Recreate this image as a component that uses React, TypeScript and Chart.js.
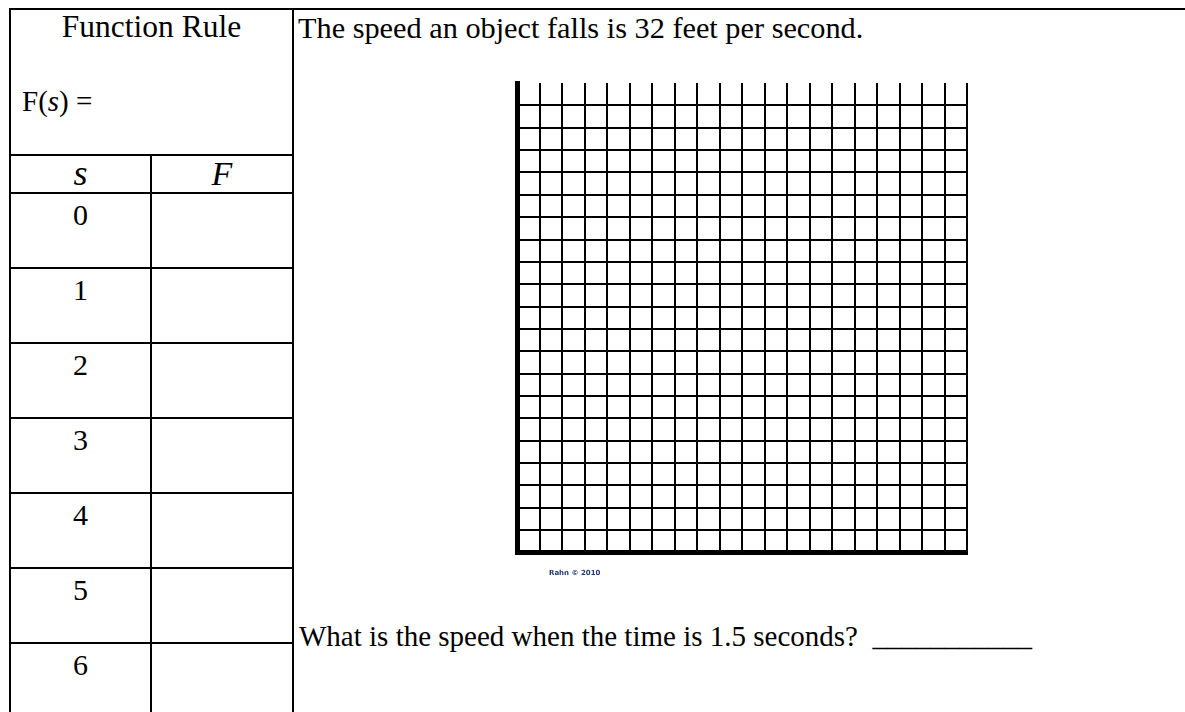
import React, { useEffect, useRef } from "react";
import { Chart, registerables } from "chart.js";

Chart.register(...registerables);

// ---- data ----
const sValues: number[] = [0, 1, 2, 3, 4, 5, 6];
const fValues: (number | null)[] = [null, null, null, null, null, null, null];
const xRange: number[] = [0, 20];
const yRange: number[] = [0, 21];
const plotPoints: { x: number; y: number }[] = [];

const TITLE = "The speed an object falls is 32 feet per second.";
const QUESTION = "What is the speed when the time is 1.5 seconds?  ___________";
const CREDIT = "Rahn \u00A9 2010";

const SERIF = '"Liberation Serif", "Times New Roman", serif';

type TextProps = {
  x: number;
  w?: number;
  baseline: number;
  size: number;
  italic?: boolean;
  children: React.ReactNode;
  center?: boolean;
  family?: string;
  color?: string;
  weight?: number | string;
};

function Txt({ x, w, baseline, size, italic, children, center, family, color, weight }: TextProps) {
  const top = baseline - (size / 2 + 0.3375 * size);
  return (
    <div
      style={{
        position: "absolute",
        left: x,
        top,
        width: w,
        textAlign: center ? "center" : "left",
        fontFamily: family || SERIF,
        fontSize: size,
        lineHeight: `${size}px`,
        fontStyle: italic ? "italic" : "normal",
        fontWeight: weight as any,
        color: color || "#000",
        whiteSpace: "pre",
      }}
    >
      {children}
    </div>
  );
}

function Line({ x, y, w, h }: { x: number; y: number; w: number; h: number }) {
  return <div style={{ position: "absolute", left: x, top: y, width: w, height: h, background: "#000" }} />;
}

function GridChart() {
  const ref = useRef<HTMLCanvasElement | null>(null);
  useEffect(() => {
    if (!ref.current) return;
    const chart = new Chart(ref.current, {
      type: "scatter",
      data: { datasets: [{ data: plotPoints, pointRadius: 0 }] },
      options: {
        responsive: false,
        animation: false,
        devicePixelRatio: 1,
        layout: { padding: { left: 17.5, top: 13, right: 23, bottom: 17.5 } },
        plugins: { legend: { display: false }, tooltip: { enabled: false } },
        scales: {
          x: {
            type: "linear",
            min: xRange[0],
            max: xRange[1],
            ticks: { display: false, stepSize: 1 },
            grid: { color: "#000", lineWidth: 2, drawTicks: false, tickLength: 0 },
            border: { display: true, color: "#000", width: 5 },
          },
          y: {
            type: "linear",
            min: yRange[0],
            max: yRange[1],
            ticks: { display: false, stepSize: 1 },
            grid: {
              color: (ctx: any) => (ctx.tick && ctx.tick.value === yRange[1] ? "rgba(0,0,0,0)" : "#000"),
              lineWidth: 2,
              drawTicks: false,
              tickLength: 0,
            },
            border: { display: true, color: "#000", width: 5 },
          },
        },
      },
    });
    return () => chart.destroy();
  }, []);
  return (
    <canvas
      ref={ref}
      width={490}
      height={500}
      style={{ position: "absolute", left: 500, top: 70, width: 490, height: 500 }}
    />
  );
}

export default function App() {
  const rowTop0 = 192;
  const rowH = 75;
  return (
    <div style={{ position: "absolute", left: 0, top: 0, width: 1185, height: 712, background: "#fff", overflow: "hidden" }}>
      {/* table frame */}
      <Line x={9} y={8} w={1176} h={2} />
      <Line x={9} y={8} w={2} h={704} />
      <Line x={292} y={8} w={2} h={704} />
      <Line x={9} y={154} w={285} h={2} />
      <Line x={150} y={154} w={2} h={558} />
      <Line x={9} y={rowTop0} w={285} h={2} />
      {sValues.map((_, i) =>
        i === 0 ? null : <Line key={"l" + i} x={9} y={rowTop0 + i * rowH} w={285} h={2} />
      )}

      <Txt x={11} w={281} center baseline={37} size={31.5}>Function Rule</Txt>
      <Txt x={22} baseline={111.5} size={29}>
        F(<i>s</i>) =
      </Txt>
      <Txt x={11} w={139} center baseline={185} size={36} italic>s</Txt>
      <Txt x={152} w={140} center baseline={185} size={34} italic>F</Txt>
      {sValues.map((v, i) => (
        <Txt key={"s" + i} x={11} w={139} center baseline={rowTop0 + i * rowH + 33} size={30}>
          {String(v)}
        </Txt>
      ))}
      {fValues.map((v, i) => (
        <Txt key={"f" + i} x={152} w={140} center baseline={rowTop0 + i * rowH + 33} size={30}>
          {v === null ? "" : String(v)}
        </Txt>
      ))}

      <Txt x={298} baseline={38} size={30.3}>{TITLE}</Txt>
      <GridChart />
      <Txt x={549} baseline={576} size={7} family='"DejaVu Sans", sans-serif' color="#1f3a6e" weight="bold">
        {CREDIT}
      </Txt>
      <Txt x={299} baseline={646} size={29}>{QUESTION}</Txt>
    </div>
  );
}
